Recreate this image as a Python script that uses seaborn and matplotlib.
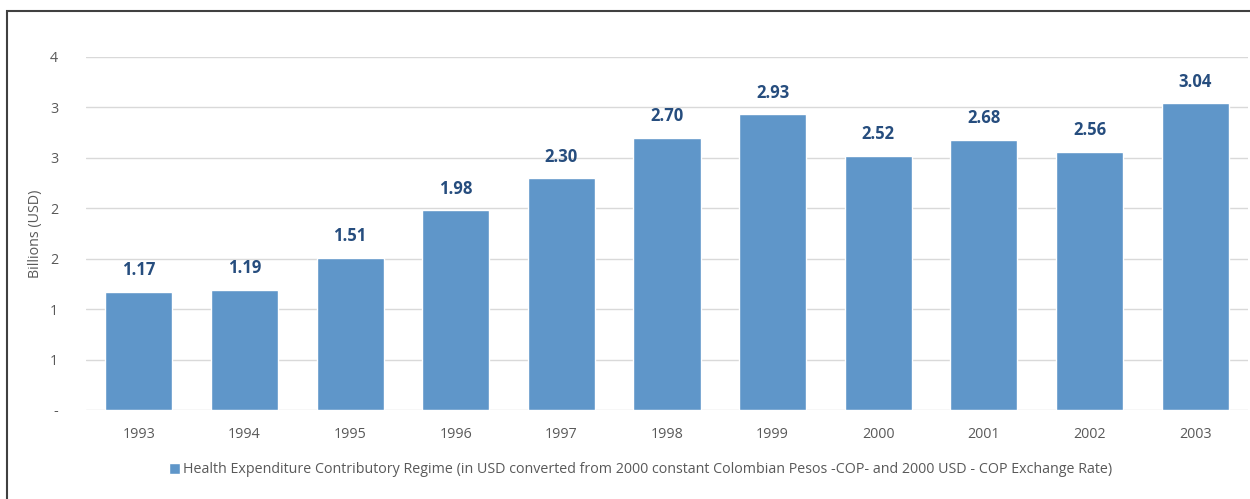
import numpy as np
import pandas as pd
import matplotlib
matplotlib.use("Agg")
import matplotlib.pyplot as plt
from matplotlib.ticker import FuncFormatter, MultipleLocator
from matplotlib.patches import Rectangle
import seaborn as sns

years = ["1993", "1994", "1995", "1996", "1997", "1998", "1999", "2000", "2001", "2002", "2003"]
spending = [1.17, 1.19, 1.51, 1.98, 2.30, 2.70, 2.93, 2.52, 2.68, 2.56, 3.04]
series_name = ("Health Expenditure Contributory Regime (in USD converted from 2000 constant "
               "Colombian Pesos -COP- and 2000 USD - COP Exchange Rate)")

sns.set_theme(style="white")
plt.rcParams["font.family"] = ["Open Sans", "DejaVu Sans"]

df = pd.DataFrame({"year": years, "value": spending})

fig = plt.figure(figsize=(12.5, 4.99), dpi=100)
ax = fig.add_axes([0.0688, 0.1784, 0.9296, 0.7074])

bar_color = "#5F96C9"
sns.barplot(data=df, x="year", y="value", color=bar_color, saturation=1,
            width=0.635, ax=ax, label=series_name, zorder=3)

for c in ax.containers:
    ax.bar_label(c, fmt="%.2f", padding=9, fontsize=12, fontweight="bold",
                 color="#264D7E")

ax.set_ylim(0, 3.5)
ax.yaxis.set_major_locator(MultipleLocator(0.5))


def excel_fmt(v, pos):
    if abs(v) < 1e-9:
        return "-"
    return str(int(np.floor(v + 0.5)))


ax.yaxis.set_major_formatter(FuncFormatter(excel_fmt))
ax.grid(axis="y", color="#D9D9D9", linewidth=1, zorder=0)
for s in ax.spines.values():
    s.set_visible(False)
ax.tick_params(axis="both", length=0, colors="#595959", labelsize=10.3)
ax.tick_params(axis="y", pad=20)
ax.tick_params(axis="x", pad=12)
ax.set_xlabel("")
ax.set_ylabel("Billions (USD)", fontsize=10.3, color="#595959", labelpad=5)

ax.legend(loc="upper center", bbox_to_anchor=(0.477, -0.112), frameon=False,
          fontsize=10.3, labelcolor="#595959", handlelength=0.8, handleheight=0.8,
          handletextpad=0.2)

# outer chart frame
fig.patches.append(Rectangle((7 / 1250, -0.1), 1.2, (499 - 11) / 499 + 0.1,
                             transform=fig.transFigure, fill=False,
                             edgecolor="#404040", linewidth=1.5))

fig.savefig("out.png", dpi=100, facecolor="white")
